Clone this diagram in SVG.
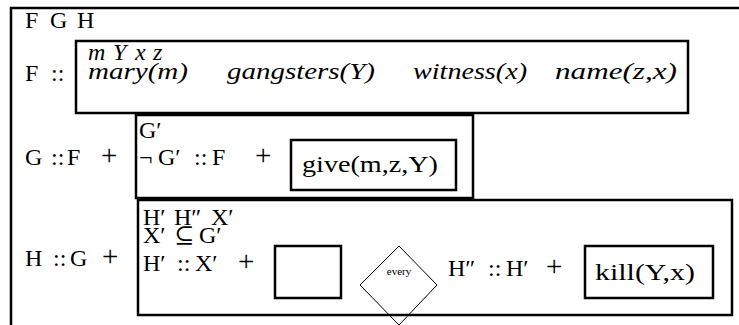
<svg xmlns="http://www.w3.org/2000/svg" width="739" height="325" viewBox="0 0 739 325">
<style>
text{font-family:"Liberation Serif","DejaVu Serif",serif;font-size:24px;fill:#000}
.it{font-style:italic}
.pl{font-size:29px}
.box{fill:none;stroke:#000;stroke-width:2.5}
.dia{fill:none;stroke:#000;stroke-width:1}
.sm{font-size:11px}
</style>
<rect width="739" height="325" fill="#fff"/>
<g id="outer">
<path class="box" d="M11,325 V8 H739"/>
<text y="28"><tspan x="25">F</tspan><tspan x="50">G</tspan><tspan x="77">H</tspan></text>
</g>
<g id="F">
<text y="81"><tspan x="25">F</tspan><tspan x="51">::</tspan></text>
<rect class="box" x="76" y="41" width="612" height="72"/>
<text class="it" y="60"><tspan x="88">m</tspan><tspan x="113">Y</tspan><tspan x="135">x</tspan><tspan x="153">z</tspan></text>
<text class="it" x="88" y="79" textLength="100" lengthAdjust="spacingAndGlyphs">mary(m)</text>
<text class="it" x="227" y="79" textLength="148" lengthAdjust="spacingAndGlyphs">gangsters(Y)</text>
<text class="it" x="413" y="79" textLength="114" lengthAdjust="spacingAndGlyphs">witness(x)</text>
<text class="it" x="555" y="79" textLength="122" lengthAdjust="spacingAndGlyphs">name(z,x)</text>
</g>
<g id="G">
<text y="165"><tspan x="25">G</tspan><tspan x="51">::</tspan><tspan x="67">F</tspan><tspan class="pl" x="101">+</tspan></text>
<rect class="box" x="136" y="115" width="337" height="83"/>
<text x="139" y="138">G′</text>
<text y="165"><tspan x="139">¬</tspan><tspan x="158">G′</tspan><tspan x="194">::</tspan><tspan x="212">F</tspan><tspan class="pl" x="255">+</tspan></text>
<rect class="box" x="291" y="140" width="165" height="50"/>
<text x="302" y="172" textLength="136" lengthAdjust="spacingAndGlyphs">give(m,z,Y)</text>
</g>
<g id="H">
<text y="266"><tspan x="25">H</tspan><tspan x="53">::</tspan><tspan x="70">G</tspan><tspan class="pl" x="102">+</tspan></text>
<rect class="box" x="138" y="200" width="594" height="115"/>
<text y="225"><tspan x="143">H′</tspan><tspan x="174">H″</tspan><tspan x="211">X′</tspan></text>
<text y="243"><tspan x="143">X′</tspan><tspan x="174">⊆</tspan><tspan x="199">G′</tspan></text>
<text y="271"><tspan x="143">H′</tspan><tspan x="177">::</tspan><tspan x="195">X′</tspan><tspan class="pl" x="238">+</tspan></text>
<rect class="box" x="275" y="246" width="66" height="52"/>
<polygon class="dia" points="399,246 437,285 399,325 360,285"/>
<text class="sm" x="399" y="275" text-anchor="middle">every</text>
<text y="276"><tspan x="448">H″</tspan><tspan x="488">::</tspan><tspan x="506">H′</tspan><tspan class="pl" x="546">+</tspan></text>
<rect class="box" x="585" y="246" width="128" height="52"/>
<text x="595" y="280" textLength="100" lengthAdjust="spacingAndGlyphs">kill(Y,x)</text>
</g>
</svg>
